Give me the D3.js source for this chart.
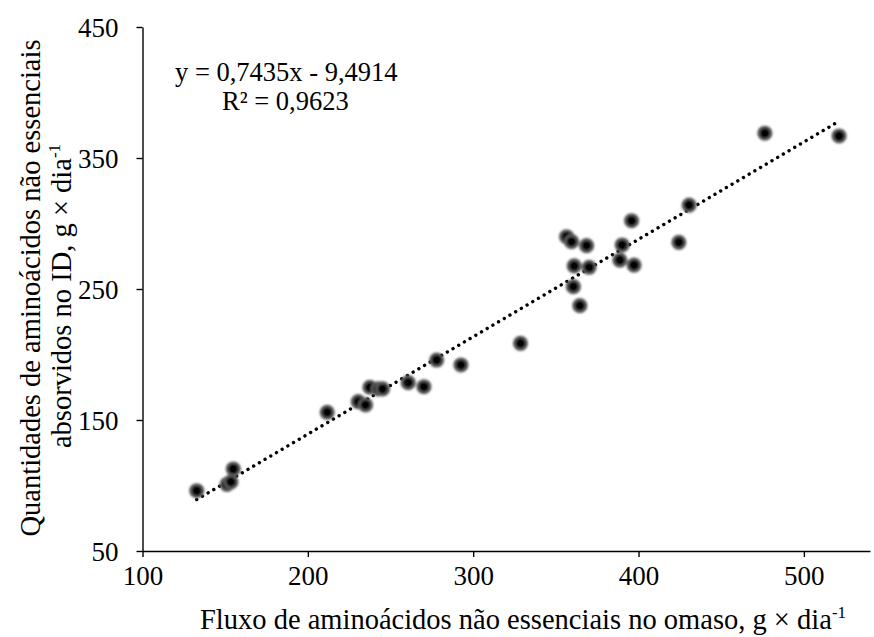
<!DOCTYPE html>
<html>
<head>
<meta charset="utf-8">
<script src="https://cdn.jsdelivr.net/npm/d3@7"></script>
<style>
  html, body { margin: 0; padding: 0; background: #fff; }
  svg { display: block; }
  text { font-family: "Liberation Serif", "Times New Roman", serif; fill: #000; }
</style>
</head>
<body>
<svg id="chart" width="874" height="637"></svg>
<script>
// Fluxo no omaso (x) vs. quantidade absorvida no ID (y), g/dia
const fluxoOmaso = [
  132.8, 151.1, 153.5, 154.9, 211.7, 230.5, 234.9, 237.5, 242.6, 245.2,
  260.7, 270.2, 277.9, 292.6, 328.6, 356.5, 359.5, 368.6, 361.1, 370.1,
  360.6, 364.5, 390.1, 388.7, 397.3, 395.8, 430.6, 424.4, 476.4, 521.3
];
const absorvidoID = [
  96.0, 100.8, 102.7, 112.6, 155.9, 164.0, 161.5, 175.0, 173.7, 173.7,
  178.5, 175.4, 195.8, 192.0, 208.5, 289.9, 286.1, 283.1, 267.6, 266.6,
  251.8, 237.3, 283.6, 272.1, 268.3, 302.1, 314.1, 285.6, 368.9, 366.8
];

const xTicks = [100, 200, 300, 400, 500];
const yTicks = [50, 150, 250, 350, 450];

// Regressão linear ajustada
const slope = 0.7435;
const intercept = -9.4914;
const eqLines = ["y = 0,7435x - 9,4914", "R² = 0,9623"];

const svg = d3.select("#chart");

const x = d3.scaleLinear().domain([100, 540]).range([142.5, 870]);
const y = d3.scaleLinear().domain([50, 450]).range([551, 27]);

// Eixo X
const xAxis = svg.append("g")
  .attr("transform", `translate(0,${y(50)})`)
  .call(d3.axisBottom(x).tickValues(xTicks).tickSize(6).tickSizeOuter(0).tickPadding(8));
xAxis.select(".domain").attr("stroke", "#000").attr("stroke-width", 1.4);
xAxis.selectAll(".tick line").attr("stroke", "#000").attr("stroke-width", 1.4);
xAxis.selectAll(".tick text").style("font-size", "27px").attr("dy", "0.75em");

// Eixo Y
const yAxis = svg.append("g")
  .attr("transform", `translate(${x(100)},0)`)
  .call(d3.axisLeft(y).tickValues(yTicks).tickSize(6).tickSizeOuter(0).tickPadding(18));
yAxis.select(".domain").attr("stroke", "#000").attr("stroke-width", 1.4);
yAxis.selectAll(".tick line").attr("stroke", "#000").attr("stroke-width", 1.4);
yAxis.selectAll(".tick text").style("font-size", "27px").attr("dy", "0.34em");

// Linha de tendência pontilhada
const xMin = d3.min(fluxoOmaso), xMax = d3.max(fluxoOmaso);
const trend = [xMin, xMax].map(v => [v, slope * v + intercept]);
svg.append("path")
  .datum(trend)
  .attr("d", d3.line().x(d => x(d[0])).y(d => y(d[1])))
  .attr("fill", "none")
  .attr("stroke", "#000")
  .attr("stroke-width", 3.4)
  .attr("stroke-linecap", "round")
  .attr("stroke-dasharray", "0.01 6.6");

// Pontos observados
const defs = svg.append("defs");
defs.append("filter").attr("id", "soft")
  .append("feGaussianBlur").attr("stdDeviation", 0.8);

svg.append("g")
  .attr("filter", "url(#soft)")
  .selectAll("circle")
  .data(fluxoOmaso.map((v, i) => [v, absorvidoID[i]]))
  .join("circle")
  .attr("cx", d => x(d[0]))
  .attr("cy", d => y(d[1]))
  .attr("r", 6.2)
  .attr("fill", "#000")
  .attr("stroke", "#5a5a5a")
  .attr("stroke-width", 2.8);

// Equação e R²
svg.append("text").attr("x", 175).attr("y", 81).style("font-size", "26.5px").text(eqLines[0]);
svg.append("text").attr("x", 222).attr("y", 110).style("font-size", "26.5px").text(eqLines[1]);

// Título do eixo X
const xt = svg.append("text").attr("x", 200).attr("y", 629).style("font-size", "28.5px");
xt.append("tspan").text("Fluxo de aminoácidos não essenciais no omaso, g × dia");
xt.append("tspan").attr("dy", -11).style("font-size", "17px").text("-1");

// Título do eixo Y (duas linhas)
const yt = svg.append("g").attr("transform", "rotate(-90)");
yt.append("text").attr("x", -288).attr("y", 40).attr("text-anchor", "middle")
  .style("font-size", "28.5px").text("Quantidades de aminoácidos não essenciais");
const yt2 = yt.append("text").attr("x", -296).attr("y", 71).attr("text-anchor", "middle")
  .style("font-size", "28.5px");
yt2.append("tspan").text("absorvidos no ID, g × dia");
yt2.append("tspan").attr("dy", -11).style("font-size", "17px").text("-1");
</script>
</body>
</html>
